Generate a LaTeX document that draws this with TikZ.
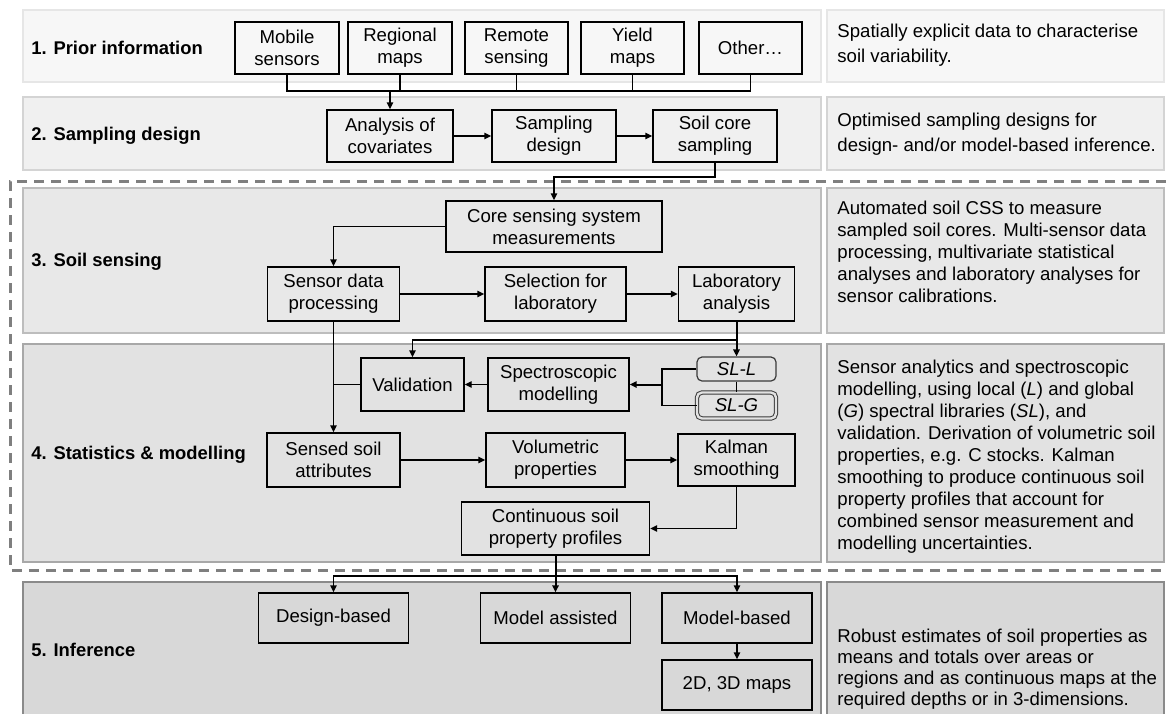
\documentclass[tikz,border=0pt]{standalone}
\usepackage{fontspec}
\setmainfont{Liberation Sans}
\usetikzlibrary{arrows.meta}
\definecolor{RowA}{HTML}{F7F7F7}
\definecolor{RowB}{HTML}{F0F0F0}
\definecolor{RowC}{HTML}{E8E8E8}
\definecolor{RowD}{HTML}{E2E2E2}
\definecolor{RowE}{HTML}{D8D8D8}
\definecolor{EdgeA}{HTML}{E6E6E6}
\definecolor{EdgeB}{HTML}{D4D4D4}
\definecolor{EdgeC}{HTML}{BDBDBD}
\definecolor{EdgeD}{HTML}{A8A8A8}
\definecolor{EdgeE}{HTML}{8A8A8A}
\definecolor{Frame}{HTML}{7F7F7F}
\definecolor{Ink}{HTML}{3A3A3A}

\begin{document}
\begin{tikzpicture}[x=0.5pt,y=-0.5pt,font=\fontsize{9.3}{11}\selectfont,
    >={Triangle[length=3.5pt,width=3.2pt]},
    box/.style={draw=black,line width=0.7pt,inner sep=0pt,align=center},
    lib/.style={draw=Ink,line width=0.6pt,rounded corners=2.5pt,inner sep=0pt,minimum width=39.5pt,font=\itshape\fontsize{9.3}{11}\selectfont},
    flow/.style={line width=0.7pt},
    panel/.style={line width=0.8pt},
    stage/.style={anchor=west,inner sep=0pt,font=\bfseries\fontsize{9.2}{11}\selectfont},
    note/.style={anchor=west,align=left,inner sep=0pt}]
  \useasboundingbox (0,0) rectangle (1166,713);
  % background rows
  \draw[panel,draw=EdgeA,fill=RowA] (23,10) rectangle (821,82);
  \draw[panel,draw=EdgeA,fill=RowA] (827,10) rectangle (1164,82);
  \draw[panel,draw=EdgeB,fill=RowB] (23,97) rectangle (821,170);
  \draw[panel,draw=EdgeB,fill=RowB] (827,97) rectangle (1164,170);
  \draw[panel,draw=EdgeC,fill=RowC] (23,188) rectangle (821,333);
  \draw[panel,draw=EdgeC,fill=RowC] (827,188) rectangle (1164,333);
  \draw[panel,draw=EdgeD,fill=RowD] (23,344) rectangle (821,562);
  \draw[panel,draw=EdgeD,fill=RowD] (827,344) rectangle (1164,562);
  \draw[panel,draw=EdgeE,fill=RowE] (23,582) rectangle (821,730);
  \draw[panel,draw=EdgeE,fill=RowE] (827,582) rectangle (1164,730);
  \draw[Frame,line width=1.5pt,dash pattern=on 5pt off 3.5pt] (1166,181) -- (10,181) -- (10,570) -- (1166,570);

  \node[stage] (s1) at (31,48) {1. Prior information};
  \node[stage] (s2) at (31,136) {2. Sampling design};
  \node[stage] (s3) at (31,262) {3. Soil sensing};
  \node[stage] (s4) at (31,455) {4. Statistics \& modelling};
  \node[stage] (s5) at (31,650) {5. Inference};

  \node[note,font=\fontsize{9.3}{12.8}\selectfont] (n1) at (837,45) {Spatially explicit data to characterise\\soil variability.};
  \node[note,font=\fontsize{9.3}{12.5}\selectfont] (n2) at (837,134.5) {Optimised sampling designs for\\design- and/or model-based inference.};
  \node[note] (n3) at (837,252) {Automated soil CSS to measure\\sampled soil cores. Multi-sensor data\\processing, multivariate statistical\\analyses and laboratory analyses for\\sensor calibrations.};
  \node[note] (n4) at (837,457) {Sensor analytics and spectroscopic\\modelling, using local (\textit{L}) and global\\(\textit{G}) spectral libraries (\textit{SL}), and\\validation. Derivation of volumetric soil\\properties, e.g. C stocks.  Kalman\\smoothing to produce continuous soil\\property profiles that account for\\combined sensor measurement and\\modelling uncertainties.};
  \node[note,font=\fontsize{9.3}{10.6}\selectfont] (n5) at (837,669) {Robust estimates of soil properties as\\means and totals over areas or\\regions and as continuous maps at the\\required depths or in 3-dimensions.};

  % 1. prior information
  \node[box,minimum width=52pt,minimum height=26pt] (mobile) at (287,48) {Mobile\\sensors};
  \node[box,minimum width=52pt,minimum height=26pt] (regional) at (400,48) {Regional\\maps};
  \node[box,minimum width=51.5pt,minimum height=26pt] (remote) at (516.5,48) {Remote\\sensing};
  \node[box,minimum width=51.5pt,minimum height=26pt] (yield) at (632.5,48) {Yield\\maps};
  \node[box,minimum width=51.5pt,minimum height=26pt] (other) at (750.5,48) {Other…};
  % 2. sampling design
  \node[box,minimum width=63pt,minimum height=26pt] (covar) at (390,136) {Analysis of\\covariates};
  \node[box,minimum width=62pt,minimum height=26pt] (design) at (554,136) {Sampling\\design};
  \node[box,minimum width=62pt,minimum height=26pt] (coresamp) at (715,136) {Soil core\\sampling};
  % 3. soil sensing
  \node[box,minimum width=108pt,minimum height=25.5pt] (css) at (554,226.5) {Core sensing system\\measurements};
  \node[box,minimum width=66pt,minimum height=27pt] (sdp) at (333.5,294) {Sensor data\\processing};
  \node[box,minimum width=70.5pt,minimum height=27pt] (select) at (555.5,294) {Selection for\\laboratory};
  \node[box,minimum width=58pt,minimum height=27pt] (lab) at (736.5,294) {Laboratory\\analysis};
  % 4. statistics and modelling
  \node[box,minimum width=51.5pt,minimum height=26.5pt] (valid) at (412.5,384.5) {Validation};
  \node[box,minimum width=70.5pt,minimum height=26.5pt] (spec) at (558.5,384.5) {Spectroscopic\\modelling};
  \node[lib,minimum height=12pt] (sll) at (736.5,369) {SL-L};
  \node[lib,minimum height=13pt,double=RowD,double distance=1.2pt,line width=0.5pt] (slg) at (736.5,405.5) {SL-G};
  \node[box,minimum width=66.5pt,minimum height=27pt] (sensed) at (333.5,460) {Sensed soil\\attributes};
  \node[box,minimum width=69.5pt,minimum height=27pt] (volu) at (555.5,460) {Volumetric\\properties};
  \node[box,minimum width=58.5pt,minimum height=26pt] (kalman) at (736.5,460) {Kalman\\smoothing};
  \node[box,minimum width=94pt,minimum height=26.5pt] (profile) at (555.5,528.5) {Continuous soil\\property profiles};
  % 5. inference
  \node[box,minimum width=75pt,minimum height=25pt] (dbased) at (333.5,618) {Design-based};
  \node[box,minimum width=75pt,minimum height=25pt] (massist) at (555.5,618) {Model assisted};
  \node[box,minimum width=75pt,minimum height=25pt] (mbased) at (737,618) {Model-based};
  \node[box,minimum width=75pt,minimum height=25pt] (maps) at (737,685) {2D, 3D maps};

  \coordinate (bus1) at (0,91);
  \coordinate (bus2) at (0,177);
  \coordinate (bus3) at (0,340);
  \coordinate (bus4) at (0,576);
  \coordinate (jn) at (662,384.5);

  \draw[flow] (mobile.south) |- (other.south |- bus1) -- (other.south);
  \foreach \n in {regional,remote,yield}
    \draw[flow] (\n.south) -- (\n.south |- bus1);
  \draw[flow,->] (covar.north |- bus1) -- (covar.north);
  \draw[flow,->] (covar) -- (design);
  \draw[flow,->] (design) -- (coresamp);
  \draw[flow,->] (coresamp.south) |- (css.north |- bus2) -- (css.north);
  \draw[flow,->] (css.west) -| (sdp.north);
  \draw[flow,->] (sdp) -- (select);
  \draw[flow,->] (select) -- (lab);
  \draw[line width=1pt,->] (lab.south) -- (sll.north);
  \draw[flow,->] (lab.south |- bus3) -| (valid.north);
  \draw[flow] (sll.south) -- (slg.north);
  \draw[flow] (sll.west) -| (jn) |- (slg.west);
  \draw[line width=1pt,->] (jn) -- (spec.east);
  \draw[flow,->] (spec) -- (valid);
  \draw[flow] (valid.west) -- (valid.west -| sdp.south);
  \draw[flow,->] (sdp.south) -- (sensed.north);
  \draw[flow,->] (sensed) -- (volu);
  \draw[flow,->] (volu) -- (kalman);
  \draw[flow,->] (kalman.south) |- (profile.east);
  \draw[line width=1pt,->] (profile.south) -- (massist.north);
  \draw[flow,->] (profile.south |- bus4) -| (dbased.north);
  \draw[flow,->] (profile.south |- bus4) -| (mbased.north);
  \draw[flow,->] (mbased) -- (maps);
\end{tikzpicture}
\end{document}
